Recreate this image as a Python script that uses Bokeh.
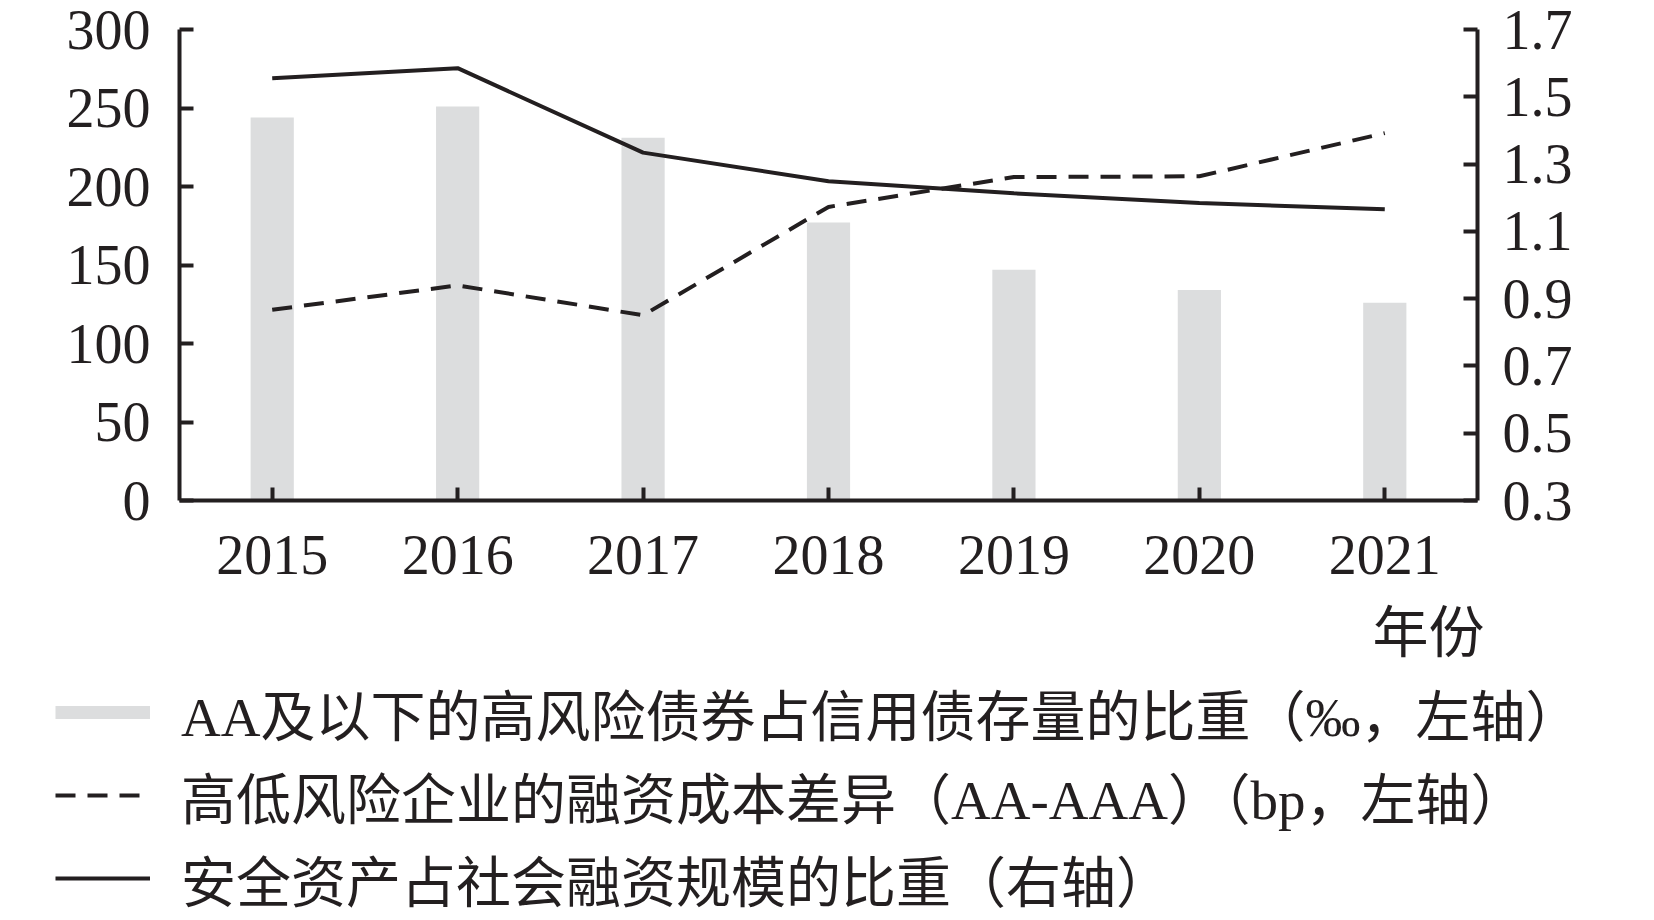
from bokeh.plotting import figure
from bokeh.models import (Range1d, FactorRange, LinearAxis, FixedTicker, Legend,
                          LegendItem, Label, ColumnDataSource, PrintfTickFormatter)
from bokeh.layouts import column
from bokeh.embed import file_html
from bokeh.resources import INLINE

# ---------------- data ----------------
years = ["2015", "2016", "2017", "2018", "2019", "2020", "2021"]
high_risk_share = [244, 251, 231, 177, 147, 134, 126]          # ‰, left axis (bars)
cost_spread = [121.5, 137, 118, 187, 206, 206.5, 234]          # bp, left axis (dashed)
safe_asset_ratio = [1.555, 1.585, 1.334, 1.249, 1.213, 1.184, 1.166]  # right axis (solid)
left_ticks = [0, 50, 100, 150, 200, 250, 300]
right_ticks = [0.3, 0.5, 0.7, 0.9, 1.1, 1.3, 1.5, 1.7]
x_label = "年份"
legend_labels = [
    "AA及以下的高风险债券占信用债存量的比重（‰，左轴）",
    "高低风险企业的融资成本差异（AA-AAA）（bp，左轴）",
    "安全资产占社会融资规模的比重（右轴）",
]

INK = "#231f20"
BAR = "#dcddde"
SERIF = "'Liberation Serif', 'Noto Sans CJK SC'"
W = 1646

src = ColumnDataSource(dict(year=years, bar=high_risk_share,
                            spread=cost_spread, ratio=safe_asset_ratio))

p = figure(width=W, height=590, x_range=FactorRange(*years),
           y_range=Range1d(0, 300), output_backend="svg", toolbar_location=None,
           min_border_left=179, min_border_right=W - 1477, min_border_top=29,
           min_border_bottom=90, outline_line_color=None,
           background_fill_color="white", border_fill_color="white")
p.frame_align = False
p.extra_y_ranges = {"right": Range1d(0.3, 1.7)}
p.xgrid.visible = False
p.ygrid.visible = False
p.x_range.range_padding = 0

p.vbar(x="year", top="bar", width=0.233, source=src, fill_color=BAR, line_color=None)
p.line(x="year", y="spread", source=src, line_color=INK, line_width=4, line_dash="20 12")
p.line(x="year", y="ratio", source=src, y_range_name="right", line_color=INK, line_width=4)

left = p.yaxis[0]
bottom = p.xaxis[0]
right = LinearAxis(y_range_name="right")
p.add_layout(right, "right")

left.ticker = FixedTicker(ticks=left_ticks)
right.ticker = FixedTicker(ticks=right_ticks)
right.formatter = PrintfTickFormatter(format="%.1f")

for ax in (left, bottom, right):
    ax.axis_line_color = INK
    ax.axis_line_width = 4
    ax.major_tick_line_color = INK
    ax.major_tick_line_width = 4
    ax.major_tick_out = 0
    ax.major_tick_in = 14
    ax.minor_tick_line_color = None
    ax.major_label_text_font = SERIF
    ax.major_label_text_font_size = "56px"
    ax.major_label_text_color = INK
left.major_label_standoff = 29
right.major_label_standoff = 25
bottom.major_label_standoff = 35
bottom.major_tick_in = 13

# ---------------- legend / x-label panel ----------------
QH = 328
q = figure(width=W, height=QH, x_range=Range1d(0, 1), y_range=Range1d(0, 1),
           output_backend="svg", toolbar_location=None, x_axis_location=None,
           y_axis_location=None, min_border=0, outline_line_color=None,
           background_fill_color="white", border_fill_color="white")
q.frame_align = False
q.grid.visible = False
r_bar = q.line(x=[-10, -9], y=[-10, -9], line_color=BAR, line_width=13)
r_dash = q.line(x=[-10, -9], y=[-10, -9], line_color=INK, line_width=4, line_dash="20 12")
r_solid = q.line(x=[-10, -9], y=[-10, -9], line_color=INK, line_width=4)

legend = Legend(items=[LegendItem(label=legend_labels[0], renderers=[r_bar]),
                       LegendItem(label=legend_labels[1], renderers=[r_dash]),
                       LegendItem(label=legend_labels[2], renderers=[r_solid])],
                location=(55, 0), orientation="vertical", glyph_width=95,
                glyph_height=80, label_height=80, spacing=3, label_standoff=31,
                padding=0, margin=0, border_line_color=None, background_fill_alpha=0,
                label_text_font=SERIF, label_text_font_size="55px",
                label_text_color=INK)
q.add_layout(legend)

q.add_layout(Label(x=1428, y=QH - 42, x_units="screen", y_units="screen", text=x_label,
                   text_align="center", text_baseline="middle", text_font=SERIF,
                   text_font_size="56px", text_color=INK))

layout = column(p, q, spacing=0)
open("out.html", "w").write(file_html(layout, INLINE))
